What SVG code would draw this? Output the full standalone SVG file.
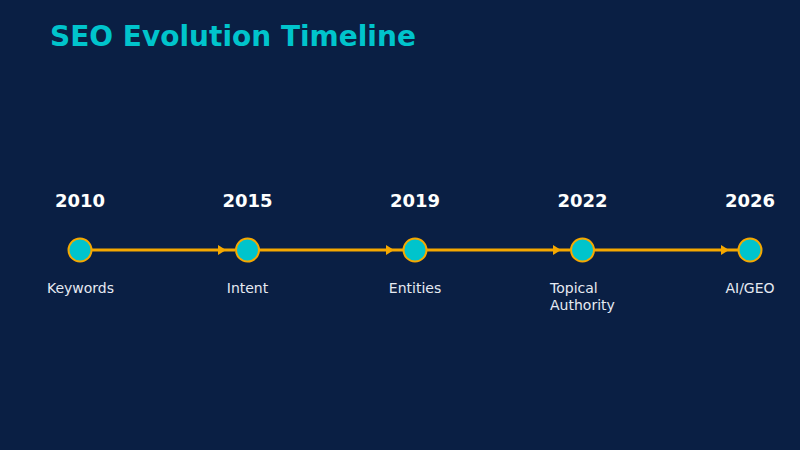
<svg xmlns="http://www.w3.org/2000/svg" width="800" height="450" viewBox="0 0 800 450">
<style>
.title{font-family:"DejaVu Sans",sans-serif;font-weight:bold;font-size:28px;fill:#00c4cc}
.year{font-family:"DejaVu Sans",sans-serif;font-weight:bold;font-size:18px;fill:#ffffff;text-anchor:middle}
.lbl{font-family:"DejaVu Sans",sans-serif;font-size:14px;fill:#e6eaf2}
.dot{fill:#00c4cc;stroke:#f5a800;stroke-width:2}
.conn{stroke:#f5a800;stroke-width:3;fill:none;marker-end:url(#arr)}
</style>
<defs>
<marker id="arr" markerUnits="userSpaceOnUse" viewBox="0 0 8 10" markerWidth="8" markerHeight="10" refX="17" refY="5" orient="auto" overflow="visible">
<path d="M0,0 L8,5 L0,10 Z" fill="#f5a800"/>
</marker>
</defs>
<rect width="800" height="450" fill="#0a1f44"/>
<text class="title" x="50" y="46">SEO Evolution Timeline</text>
<g id="connectors">
<line class="conn" x1="92" y1="250" x2="235" y2="250"/>
<line class="conn" x1="259" y1="250" x2="403" y2="250"/>
<line class="conn" x1="427" y1="250" x2="570" y2="250"/>
<line class="conn" x1="594" y1="250" x2="738" y2="250"/>
</g>
<g id="n2010">
<text class="year" x="80" y="207">2010</text>
<circle class="dot" cx="80" cy="250" r="11.5"/>
<text class="lbl" x="80.5" y="293" text-anchor="middle">Keywords</text>
</g>
<g id="n2015">
<text class="year" x="247.5" y="207">2015</text>
<circle class="dot" cx="247.5" cy="250" r="11.5"/>
<text class="lbl" x="247.5" y="293" text-anchor="middle">Intent</text>
</g>
<g id="n2019">
<text class="year" x="415" y="207">2019</text>
<circle class="dot" cx="415" cy="250" r="11.5"/>
<text class="lbl" x="415" y="293" text-anchor="middle">Entities</text>
</g>
<g id="n2022">
<text class="year" x="582.5" y="207">2022</text>
<circle class="dot" cx="582.5" cy="250" r="11.5"/>
<text class="lbl" x="550" y="293">Topical</text>
<text class="lbl" x="550" y="310">Authority</text>
</g>
<g id="n2026">
<text class="year" x="750" y="207">2026</text>
<circle class="dot" cx="750" cy="250" r="11.5"/>
<text class="lbl" x="750" y="293" text-anchor="middle">AI/GEO</text>
</g>
</svg>
